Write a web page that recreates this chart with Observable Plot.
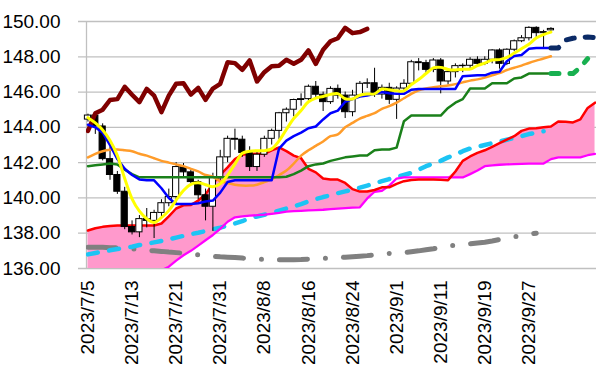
<!DOCTYPE html>
<html><head><meta charset="utf-8">
<script src="https://cdn.jsdelivr.net/npm/d3@7"></script>
<script src="https://cdn.jsdelivr.net/npm/@observablehq/plot@0.6"></script>
<style>body{margin:0;background:#fff;} #chart svg{display:block;}</style>
</head><body><div id="chart"></div>
<script>
const dates = ["2023/7/5","2023/7/6","2023/7/7","2023/7/10","2023/7/11","2023/7/12","2023/7/13","2023/7/14","2023/7/17","2023/7/18","2023/7/19","2023/7/20","2023/7/21","2023/7/24","2023/7/25","2023/7/26","2023/7/27","2023/7/28","2023/7/31","2023/8/1","2023/8/2","2023/8/3","2023/8/4","2023/8/7","2023/8/8","2023/8/9","2023/8/10","2023/8/11","2023/8/14","2023/8/15","2023/8/16","2023/8/17","2023/8/18","2023/8/21","2023/8/22","2023/8/23","2023/8/24","2023/8/25","2023/8/28","2023/8/29","2023/8/30","2023/8/31","2023/9/1","2023/9/4","2023/9/5","2023/9/6","2023/9/7","2023/9/8","2023/9/11","2023/9/12","2023/9/13","2023/9/14","2023/9/15","2023/9/18","2023/9/19","2023/9/20","2023/9/21","2023/9/22","2023/9/25","2023/9/26","2023/9/27","2023/9/28","2023/9/29","2023/10/2","2023/10/3","2023/10/4","2023/10/5","2023/10/6","2023/10/9","2023/10/10"];
const tickLabels = ["2023/7/5","2023/7/13","2023/7/21","2023/7/31","2023/8/8","2023/8/16","2023/8/24","2023/9/1","2023/9/11","2023/9/19","2023/9/27"];
const yTicks = [136,138,140,142,144,146,148,150];

const open = [144.44,144.67,144.05,142.2,141.3,140.35,138.35,138.05,138.8,138.7,139.15,139.7,140.05,141.75,141.45,140.9,140.15,139.5,141.15,142.3,143.35,143.3,142.55,141.75,142.45,143.35,143.8,144.8,145.0,145.55,145.6,146.3,145.85,145.43,146.18,145.8,144.86,145.8,146.47,146.5,145.86,146.24,145.56,146.2,146.47,147.69,147.64,147.26,147.79,146.6,147.13,147.47,147.49,147.83,147.6,147.83,148.36,147.6,148.4,148.88,149.05,149.64,149.34,149.5];
const high = [144.75,144.9,144.2,142.9,141.5,140.6,138.7,139.0,139.4,139.3,139.9,140.5,142.0,141.95,141.6,141.0,140.5,141.4,142.7,143.5,143.9,143.5,142.9,142.6,143.5,143.9,144.85,145.1,145.6,145.9,146.4,146.6,146.0,146.3,146.4,146.0,146.1,146.6,146.75,147.35,146.4,146.5,146.3,146.7,147.8,147.9,147.8,147.9,147.9,147.2,147.6,147.6,147.95,148.0,148.0,148.4,148.45,148.45,148.95,149.2,149.7,149.7,149.5,149.65];
const low = [144.3,143.6,142.1,141.0,140.2,138.2,137.9,137.75,138.3,137.7,138.8,139.5,139.7,141.1,140.7,139.9,138.7,138.1,140.8,142.0,142.7,142.3,141.5,141.5,142.3,143.0,143.3,144.3,144.6,145.2,145.5,145.6,144.9,145.3,145.6,144.5,144.6,145.7,146.2,145.7,145.6,145.3,144.45,146.0,146.4,147.2,147.0,147.1,145.9,146.4,146.8,147.1,147.3,147.5,147.5,147.6,147.3,147.5,148.3,148.8,148.9,149.1,148.5,149.45];
const close = [144.67,144.05,142.2,141.3,140.35,138.35,138.05,138.8,138.7,139.15,139.7,140.05,141.75,141.45,140.9,140.15,139.5,141.15,142.3,143.35,143.3,142.55,141.75,142.45,143.35,143.8,144.8,145.0,145.55,145.6,146.3,145.85,145.43,146.18,145.8,144.86,145.8,146.47,146.5,145.86,146.24,145.56,146.2,146.47,147.69,147.64,147.26,147.79,146.6,147.13,147.47,147.49,147.83,147.6,147.83,148.36,147.6,148.4,148.88,149.05,149.64,149.34,149.4,149.58];

// yellow (5-day average)
const ma5 = [144.55,144.25,143.85,143.25,142.4,141.1,139.95,139.25,138.82,138.61,138.88,139.28,139.87,140.42,140.77,140.86,140.75,140.63,140.8,141.29,141.92,142.53,142.65,142.68,142.68,142.78,143.23,143.88,144.5,144.95,145.45,145.66,145.75,145.87,145.91,145.62,145.61,145.82,145.89,145.9,146.17,146.13,146.07,146.07,146.43,146.71,147.05,147.37,147.4,147.28,147.25,147.3,147.3,147.5,147.64,147.82,147.84,147.96,148.21,148.46,148.71,149.06,149.26,149.4];
// blue (tenkan)
const tenkan = [144.15,144.0,143.7,143.0,142.2,141.65,141.3,141.05,141.0,141.0,140.55,140.0,139.65,139.65,139.65,139.7,139.8,139.85,140.3,140.9,141.0,141.0,141.0,141.0,141.0,141.0,142.8,143.25,143.5,143.7,143.95,144.05,144.45,144.8,144.95,145.45,145.6,145.75,145.8,145.9,146.0,145.93,145.9,145.9,146.13,146.18,146.18,146.18,146.18,146.18,146.18,146.9,146.93,146.95,146.95,147.1,147.15,147.75,148.05,148.1,148.45,148.5,148.5,148.5];
// green (kijun)
const kijun = [141.8,141.85,141.9,141.95,141.9,141.6,141.35,141.17,141.17,141.17,141.17,141.17,141.17,141.17,141.17,141.17,141.17,141.17,141.17,141.17,141.17,141.17,141.17,141.17,141.17,141.17,141.17,141.2,141.35,141.55,141.8,141.9,141.95,142.1,142.2,142.3,142.35,142.4,142.4,142.7,142.75,142.75,142.85,144.35,144.67,144.67,144.67,144.67,144.67,145.1,145.4,145.6,146.2,146.2,146.2,146.5,146.5,146.5,146.77,146.83,147.05,147.05,147.05,147.05];
// orange (25-day average)
const ma25 = [142.3,142.5,142.65,142.73,142.74,142.7,142.65,142.5,142.4,142.25,142.1,142.0,141.9,141.8,141.65,141.5,141.3,141.2,140.95,140.85,140.75,140.7,140.7,140.75,140.9,141.05,141.3,141.55,141.95,142.4,142.7,142.95,143.2,143.5,143.6,144.0,144.25,144.5,144.65,144.8,145.05,145.2,145.4,145.65,145.9,146.1,146.2,146.27,146.33,146.37,146.45,146.55,146.65,146.72,146.82,146.95,147.07,147.25,147.38,147.5,147.65,147.78,147.9,148.03];
// red (span A) and magenta (span B), to the end of the axis
const spanA = [138.15,138.28,138.36,138.41,138.44,138.44,138.44,138.44,138.44,138.44,138.55,138.95,139.4,139.58,139.6,139.85,140.2,140.8,141.3,141.73,142.2,142.45,142.5,142.5,142.5,142.7,142.86,142.65,142.4,142.25,141.65,141.45,141.1,141.05,141.04,140.85,140.5,140.36,140.36,140.45,140.6,140.6,140.8,140.95,141.02,141.04,141.04,141.04,141.03,141.0,141.5,142.1,142.35,142.55,142.7,142.9,143.1,143.3,143.5,143.8,143.93,143.95,144.0,144.05,144.33,144.32,144.28,144.45,145.1,145.4];
const spanB = [135.2,135.25,135.3,135.35,135.4,135.45,135.5,135.55,135.65,135.75,135.9,136.1,136.45,136.75,137.0,137.3,137.6,137.9,138.25,138.65,138.9,138.95,139.0,139.02,139.05,139.1,139.15,139.22,139.25,139.27,139.29,139.31,139.33,139.36,139.39,139.42,139.45,139.47,139.97,140.35,140.4,140.7,141.1,141.16,141.16,141.16,141.16,141.16,141.16,141.16,141.16,141.16,141.35,141.55,141.8,141.85,141.88,141.9,141.92,141.93,141.94,141.95,141.95,142.2,142.3,142.3,142.3,142.3,142.42,142.5];
// dark red (lagging close)
const chikou = [143.8,144.8,145.0,145.55,145.6,146.3,145.85,145.43,146.18,145.8,144.86,145.8,146.47,146.5,145.86,146.24,145.56,146.2,146.47,147.69,147.64,147.26,147.79,146.6,147.13,147.47,147.49,147.83,147.6,147.83,148.36,147.6,148.4,148.88,149.05,149.64,149.34,149.4,149.58];
// light blue dashed
const ma75 = [136.8,136.88,136.95,137.03,137.1,137.17,137.23,137.33,137.4,137.48,137.56,137.65,137.75,137.85,137.95,138.03,138.12,138.22,138.32,138.43,138.55,138.68,138.85,138.95,139.05,139.15,139.28,139.4,139.52,139.65,139.8,139.93,140.05,140.15,140.27,140.37,140.47,140.58,140.7,140.83,140.95,141.07,141.18,141.3,141.42,141.6,141.8,141.95,142.1,142.3,142.45,142.65,142.8,142.9,143.0,143.1,143.2,143.3,143.4,143.5,143.62,143.7,143.78];
// grey dash-dot
const ma200 = [137.2,137.2,137.2,137.18,137.17,137.15,137.12,137.08,137.03,137.0,136.97,136.93,136.9,136.87,136.82,136.77,136.72,136.69,136.66,136.64,136.62,136.59,136.56,136.54,136.52,136.5,136.49,136.49,136.5,136.51,136.53,136.55,136.57,136.59,136.61,136.64,136.67,136.7,136.73,136.77,136.82,136.85,136.86,136.9,136.95,137.0,137.06,137.12,137.19,137.26,137.32,137.37,137.4,137.45,137.49,137.56,137.64,137.72,137.8,137.88,137.95,138.0];
// future projections (start at 2023/10/2)
const futureStart = 63;
const tenkanFuture = [148.5,148.5,148.95,149.05,149.1,149.12,149.08];
const kijunFuture = [147.05,147.05,147.05,147.05,147.4,147.9];

const candles = open.map((o,i)=>({i, open:o, high:high[i], low:low[i], close:close[i]}));
const series = (arr, start=0) => arr.map((v,j)=>({i:start+j, v}));
const cloud = spanA.map((a,i)=>({i, a, b:spanB[i]}));
const tickIdx = tickLabels.map(l => dates.indexOf(l));

const L = (arr, opts, start=0) => Plot.line(series(arr,start), {x:"i", y:"v", clip:true, ...opts});

const chart = Plot.plot({
  width:606, height:389, marginTop:21, marginBottom:121, marginLeft:86, marginRight:10,
  style:{fontFamily:"'Liberation Sans', Arial, sans-serif", background:"#fff", color:"#000"},
  x:{domain:[-0.2,69.2], label:null},
  y:{domain:[136,150], label:null},
  marks:[
    Plot.ruleY(yTicks,{stroke:"#c0c0c0", strokeWidth:1.3, insetLeft:-8}),
    Plot.ruleX([-0.2],{stroke:"#c0c0c0", strokeWidth:1.3}),
    Plot.areaY(cloud,{x:"i", y1:"b", y2:d=>Math.max(d.a,d.b), fill:"#ff99cc", clip:true}),
    L(ma200,{stroke:"#808080", strokeWidth:5, strokeDasharray:"28 18 0 18", strokeLinecap:"round"}),
    L(ma75,{stroke:"#1cc4f4", strokeWidth:4.5, strokeDasharray:"10 11.5", strokeLinecap:"round"}),
    L(spanB,{stroke:"#ff00ff", strokeWidth:2.3}),
    L(spanA,{stroke:"#ff0000", strokeWidth:2.5}),
    Plot.ruleX(candles,{x:"i", y1:"low", y2:"high", stroke:"#000", strokeWidth:1}),
    Plot.rect(candles,{x1:d=>d.i-0.42, x2:d=>d.i+0.42, y1:"open", y2:"close", fill:d=>d.close>=d.open?"#fff":"#000", stroke:"#000", strokeWidth:1}),
    L(chikou,{stroke:"#800000", strokeWidth:4.5, strokeLinejoin:"round", strokeLinecap:"round"}),
    L(ma25,{stroke:"#ff9c2a", strokeWidth:2.5, curve:"catmull-rom"}),
    L(kijun,{stroke:"#1a801a", strokeWidth:2.5}),
    L(tenkan,{stroke:"#0000ff", strokeWidth:2.5}),
    L(ma5,{stroke:"#ffff00", strokeWidth:3, curve:"catmull-rom"}),
    L(tenkanFuture,{stroke:"#0b2a66", strokeWidth:5, strokeDasharray:"8 11", strokeLinecap:"round"}, futureStart),
    L(kijunFuture,{stroke:"#18b050", strokeWidth:5, strokeDasharray:"8 11", strokeLinecap:"round"}, futureStart),
    Plot.axisY(yTicks,{tickSize:0, tickPadding:26, tickFormat:d=>d.toFixed(2), fontSize:19, fill:"#000", label:null}),
    Plot.axisX(tickIdx,{tickSize:0, tickPadding:12, tickRotate:-90, tickFormat:d=>dates[d], fontSize:19, fill:"#000", label:null})
  ]
});
document.getElementById("chart").appendChild(chart);
</script>
</body></html>
